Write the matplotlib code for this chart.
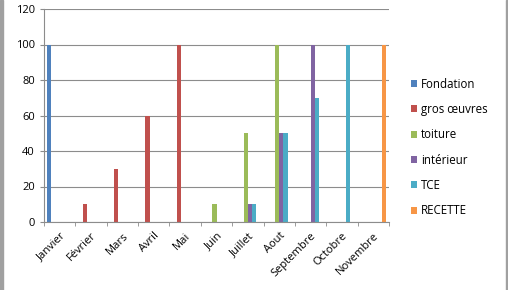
import numpy as np
import matplotlib.pyplot as plt
from matplotlib.patches import Rectangle

plt.rcParams['font.family'] = ['Open Sans', 'DejaVu Sans']

# données
mois = ['Janvier', 'Février', 'Mars', 'Avril', 'Mai', 'Juin', 'Juillet',
        'Aout', 'Septembre', 'Octobre', 'Novembre']
fondation = [100, 0, 0, 0, 0, 0, 0, 0, 0, 0, 0]
gros_oeuvres = [0, 10, 30, 60, 100, 0, 0, 0, 0, 0, 0]
toiture = [0, 0, 0, 0, 0, 10, 50, 100, 0, 0, 0]
interieur = [0, 0, 0, 0, 0, 0, 10, 50, 100, 0, 0]
tce = [0, 0, 0, 0, 0, 0, 10, 50, 70, 100, 0]
recette = [0, 0, 0, 0, 0, 0, 0, 0, 0, 0, 100]

series = [fondation, gros_oeuvres, toiture, interieur, tce, recette]
noms = ['Fondation', 'gros œuvres', 'toiture', 'intérieur', 'TCE', 'RECETTE']
couleurs = ['#4F81BD', '#C0504D', '#9BBB59', '#8064A2', '#4BACC6', '#F79646']

fig = plt.figure(figsize=(5.08, 2.9), dpi=100)
ax = fig.add_axes([44 / 508, 1 - 222 / 290, 345 / 508, 213 / 290])

x = np.arange(len(mois))
w = 1 / 7.5  # gap width 150 %
for i, (vals, nom, c) in enumerate(zip(series, noms, couleurs)):
    ax.bar(x - 0.5 + w * (1.25 + i), vals, width=w, color=c, label=nom, linewidth=0)

ax.set_xlim(-0.5, len(mois) - 0.5)
ax.set_ylim(0, 120)
ax.set_yticks(range(0, 121, 20))
ax.yaxis.grid(True, color='#8c8c8c', linewidth=0.8)
ax.set_axisbelow(True)

ax.set_xticks(x)
ax.set_xticklabels(mois, rotation=45, ha='right', rotation_mode='anchor')
ax.set_xticks(np.arange(-0.5, len(mois)), minor=True)
ax.tick_params(axis='x', which='major', length=0, pad=6, labelsize=8)
ax.tick_params(axis='x', which='minor', length=3, color='#8c8c8c', direction='out')
ax.tick_params(axis='y', length=3, color='#8c8c8c', labelsize=8)

for s in ['top', 'right']:
    ax.spines[s].set_visible(False)
for s in ['left', 'bottom']:
    ax.spines[s].set_color('#8c8c8c')
    ax.spines[s].set_linewidth(0.8)

fig.legend(loc='upper left', bbox_to_anchor=(406 / 508, 1 - 73 / 290),
           frameon=False, fontsize=8.3, handlelength=0.55, handleheight=0.55,
           handletextpad=0.35, labelspacing=1.07, borderaxespad=0)

# cadre gris à gauche et à droite
fig.patches.append(Rectangle((0, 0), 2.5 / 508, 1, transform=fig.transFigure,
                             color='#a0a0a0', zorder=0))
fig.patches.append(Rectangle((1 - 2.5 / 508, 0), 2.5 / 508, 1,
                             transform=fig.transFigure, color='#a0a0a0', zorder=0))

fig.savefig('out.png', dpi=100)
